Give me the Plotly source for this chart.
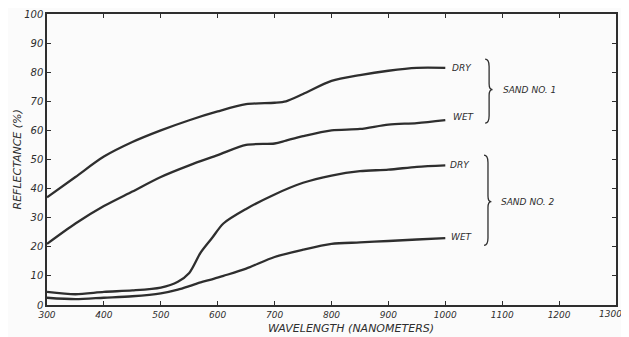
import plotly.graph_objects as go

wl = [300, 350, 400, 450, 500, 550, 600, 650, 700, 720, 750, 800, 850, 900, 950, 1000]
sand1_dry = [37, 44, 51, 56, 60, 63.5, 66.5, 69, 69.5, 70, 72.5, 77, 79, 80.5, 81.5, 81.5]
sand1_wet = [21, 28, 34, 39, 44, 48, 51.5, 55, 55.5, 56.5, 58, 60, 60.5, 62, 62.5, 63.5]

wl2 = [300, 350, 400, 450, 500, 530, 550, 570, 590, 610, 650, 700, 750, 800, 850, 900, 950, 1000]
sand2_dry = [4.5, 3.7, 4.5, 5, 6, 8, 11, 18, 23, 28, 33, 38, 42, 44.5, 46, 46.5, 47.5, 48]
sand2_wet = [2.5, 2, 2.5, 3, 4, 5.3, 6.5, 7.8, 8.8, 10, 12.5, 16.5, 19, 21, 21.5, 22, 22.5, 23]

x_ticks = [300, 400, 500, 600, 700, 800, 900, 1000, 1100, 1200, 1300]
x_labels = ["300", "400", "500", "600", "700", "800", "900", "1000", "1100", "1200", "1300"]
y_ticks = [0, 10, 20, 30, 40, 50, 60, 70, 80, 90, 100]

ink = "#2e2e2e"
yfont = dict(family="DejaVu Sans", size=10, color=ink, style="italic")
xfont = dict(family="DejaVu Sans", size=9, color=ink, style="italic")

fig = go.Figure()
for xs, ys in [(wl, sand1_dry), (wl, sand1_wet), (wl2, sand2_dry), (wl2, sand2_wet)]:
    fig.add_trace(go.Scatter(x=xs, y=ys, mode="lines",
                             line=dict(color=ink, width=2.3, shape="spline", smoothing=0.8),
                             showlegend=False, hoverinfo="skip"))

# labels
for txt, x, y in [("DRY", 1008, 81.5), ("WET", 1010, 64.5), ("DRY", 1004, 48), ("WET", 1006, 23.3)]:
    fig.add_annotation(x=x, y=y, text=txt, showarrow=False, xanchor="left", yanchor="middle",
                       font=dict(family="DejaVu Sans", size=9, color=ink, style="italic"))
fig.add_annotation(x=1098, y=74, text="SAND NO. 1", showarrow=False, xanchor="left",
                   font=dict(family="DejaVu Sans", size=9, color=ink, style="italic"))
fig.add_annotation(x=1095, y=35.5, text="SAND NO. 2", showarrow=False, xanchor="left",
                   font=dict(family="DejaVu Sans", size=9, color=ink, style="italic"))

def brace(x0, ytop, ybot, ymid, w=7, tip=6):
    xm = x0 + w
    return (f"M {x0},{ytop} Q {xm},{ytop} {xm},{ytop-2.5} L {xm},{ymid+2} "
            f"Q {xm},{ymid} {xm+tip},{ymid} Q {xm},{ymid} {xm},{ymid-2} "
            f"L {xm},{ybot+2.5} Q {xm},{ybot} {x0},{ybot}")

fig.add_shape(type="path", path=brace(1070, 84.5, 62.5, 74), xref="x", yref="y",
              line=dict(color=ink, width=1.3))
fig.add_shape(type="path", path=brace(1068, 51.5, 20.5, 35.5), xref="x", yref="y",
              line=dict(color=ink, width=1.3))

fig.add_annotation(xref="paper", yref="paper", x=-0.051, y=0.5, text="REFLECTANCE (%)",
                   textangle=-90, showarrow=False, xanchor="center", yanchor="middle",
                   font=dict(family="DejaVu Sans", size=11, color=ink, style="italic"))
fig.add_annotation(xref="paper", yref="paper", x=0.535, y=-0.08, text="WAVELENGTH (NANOMETERS)",
                   showarrow=False, xanchor="center", yanchor="middle",
                   font=dict(family="DejaVu Sans", size=11, color=ink, style="italic"))

# last x tick label placed so it stays inside the page
fig.add_annotation(x=x_ticks[-1], xref="x", yref="paper", y=0, yanchor="top", yshift=-2,
                   xanchor="right", xshift=8, text=x_labels[-1], showarrow=False, font=xfont)

fig.update_xaxes(range=[300, 1300], tickvals=x_ticks, ticktext=x_labels[:-1] + [""],
                 ticks="inside", ticklen=4, tickcolor=ink, showgrid=False, zeroline=False,
                 showline=True, linecolor=ink, linewidth=1.5, mirror="allticks",
                 tickfont=xfont, automargin=False)
fig.update_yaxes(range=[0, 100], tickvals=y_ticks, ticktext=[str(v) for v in y_ticks],
                 ticks="inside", ticklen=4, tickcolor=ink, showgrid=False, zeroline=False,
                 showline=True, linecolor=ink, linewidth=1.5, mirror="allticks",
                 tickfont=yfont, automargin=False)

fig.update_layout(width=621, height=329, margin=dict(l=39, r=13, t=6, b=32, autoexpand=False),
                  paper_bgcolor="#fbfbfb", plot_bgcolor="#fbfbfb")
fig.write_html("out.html")
